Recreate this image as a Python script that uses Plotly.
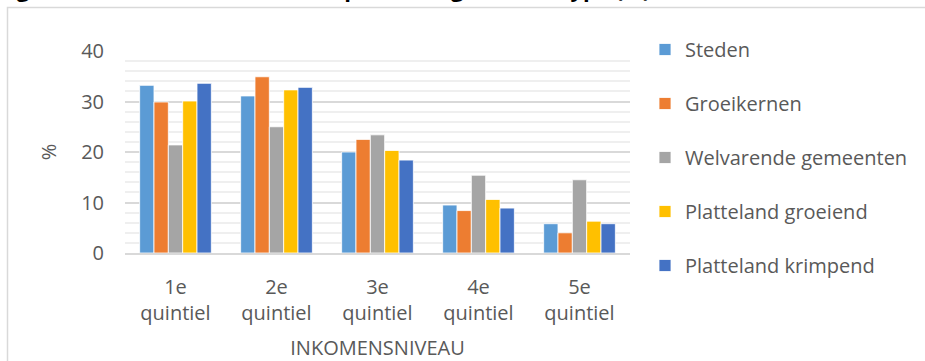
import plotly.graph_objects as go

# Income quintiles (x categories)
categories = ["1e<br>quintiel", "2e<br>quintiel", "3e<br>quintiel", "4e<br>quintiel", "5e<br>quintiel"]

# Share of inhabitants per quintile, by municipality type (%)
steden = [33.2, 31.1, 20.0, 9.5, 5.8]
groeikernen = [29.9, 34.9, 22.5, 8.4, 4.0]
welvarende = [21.4, 25.0, 23.4, 15.4, 14.5]
platteland_groeiend = [30.1, 32.3, 20.3, 10.6, 6.3]
platteland_krimpend = [33.6, 32.8, 18.4, 8.9, 5.8]

series_names = ["Steden", "Groeikernen", "Welvarende gemeenten",
                "Platteland groeiend", "Platteland krimpend"]
series_values = [steden, groeikernen, welvarende,
                 platteland_groeiend, platteland_krimpend]
series_colors = ["#5B9BD5", "#ED7D31", "#A5A5A5", "#FFC000", "#4472C4"]

W, H = 925, 361
M_L, M_R, M_T, M_B = 125, 295, 51, 108
PLOT_W = W - M_L - M_R
PLOT_H = H - M_T - M_B

FONT = "Open Sans"
TEXT_COLOR = "#595959"


def px_to_paper_x(px):
    return (px - M_L) / PLOT_W


def px_to_paper_y(py):
    return (H - M_B - py) / PLOT_H


fig = go.Figure()
for name, vals, col in zip(series_names, series_values, series_colors):
    fig.add_trace(go.Bar(
        x=categories, y=vals, name=name, legendgroup=name,
        marker=dict(color=col, line=dict(color="white", width=0.8)),
    ))

fig.update_layout(
    width=W, height=H,
    margin=dict(l=M_L, r=M_R, t=M_T, b=M_B, autoexpand=False),
    paper_bgcolor="white", plot_bgcolor="white",
    barmode="group", bargap=0.29, bargroupgap=0,
    font=dict(family=FONT, size=20, color=TEXT_COLOR),
    legend=dict(
        x=px_to_paper_x(645), xanchor="left",
        y=px_to_paper_y(30), yanchor="top",
        tracegroupgap=25, font=dict(size=20, color=TEXT_COLOR),
        bgcolor="rgba(0,0,0,0)", maxheight=340,
    ),
    showlegend=True,
)

fig.update_xaxes(
    showline=True, linecolor="#d9d9d9", linewidth=2,
    showgrid=False, ticks="", ticklabelstandoff=15,
    tickfont=dict(size=20, color=TEXT_COLOR),
    title=dict(text="INKOMENSNIVEAU", font=dict(size=20, color=TEXT_COLOR), standoff=17),
    automargin=False,
)

fig.update_yaxes(
    range=[0, 40], dtick=10, tick0=0,
    showgrid=True, gridcolor="#d9d9d9", gridwidth=1.5,
    minor=dict(dtick=2, showgrid=True, gridcolor="#efefef", gridwidth=1.5),
    zeroline=False, showline=False, ticks="", ticklabelstandoff=20,
    tickfont=dict(size=20, color=TEXT_COLOR),
    title=dict(text="%", font=dict(size=20, color=TEXT_COLOR), standoff=19),
    automargin=False,
)

# Chart frame
fig.add_shape(type="rect", xref="paper", yref="paper",
              x0=px_to_paper_x(7.5), x1=px_to_paper_x(940),
              y0=px_to_paper_y(380), y1=px_to_paper_y(7.5),
              line=dict(color="#d9d9d9", width=1.5), fillcolor="rgba(0,0,0,0)",
              layer="below")

# Figure caption above the frame (only its lower edge falls inside the page)
fig.add_annotation(
    xref="paper", yref="paper",
    x=px_to_paper_x(-4), xanchor="left",
    y=px_to_paper_y(5.5), yanchor="bottom",
    text="<b>Figuur 4: Inkomensniveau naar plaats en gemeentetype (%)</b>",
    showarrow=False, font=dict(family=FONT, size=22, color="black"),
)

fig.write_html("out.html")
